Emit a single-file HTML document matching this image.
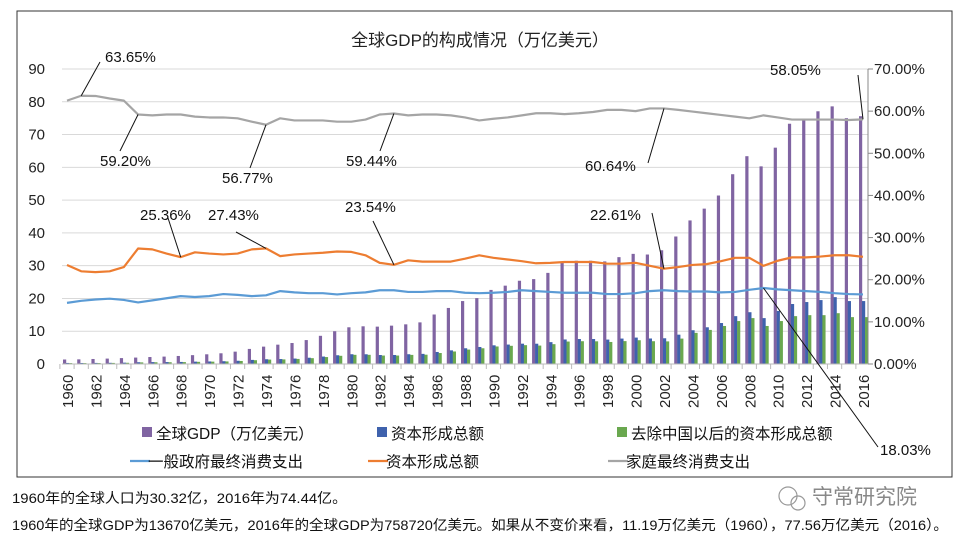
<!DOCTYPE html>
<html><head><meta charset="utf-8"><style>
body{margin:0;background:#fff;width:960px;height:540px;overflow:hidden}
svg{display:block;font-family:"Liberation Sans","Noto Sans CJK SC",sans-serif}
</style></head><body>
<svg id="chart" width="960" height="540">
<rect x="17" y="11" width="935" height="466" fill="none" stroke="#333" stroke-width="1"/>
<text x="480" y="46" text-anchor="middle" font-size="17" fill="#222">全球GDP的构成情况（万亿美元）</text>
<g id="grid"></g><g id="bars"></g><g id="lines"></g><g id="axes"></g><g id="ann"></g><g id="legend"></g>
<text x="12" y="503" font-size="14" fill="#111" textLength="335" lengthAdjust="spacingAndGlyphs">1960年的全球人口为30.32亿，2016年为74.44亿。</text>
<text x="12" y="530" font-size="14" fill="#111" textLength="936" lengthAdjust="spacingAndGlyphs">1960年的全球GDP为13670亿美元，2016年的全球GDP为758720亿美元。如果从不变价来看，11.19万亿美元（1960），77.56万亿美元（2016）。</text>
<g>
<circle cx="788" cy="496" r="9" fill="none" stroke="#999" stroke-width="1.2"/><circle cx="798" cy="503" r="7" fill="none" stroke="#999" stroke-width="1.2"/>
<text x="812" y="504" font-size="21" fill="#888">守常研究院</text></g>
</svg>
<script>
const years=[];for(let y=1960;y<=2016;y++)years.push(y);
const gdp=[1.37,1.42,1.53,1.65,1.8,1.96,2.13,2.26,2.45,2.7,2.96,3.27,3.77,4.6,5.3,5.9,6.4,7.3,8.6,10.0,11.2,11.5,11.4,11.7,12.1,12.7,15.1,17.1,19.2,20.1,22.6,23.9,25.4,25.9,27.8,30.9,31.5,31.5,31.3,32.6,33.6,33.4,34.7,38.9,43.8,47.4,51.4,57.9,63.4,60.3,66.0,73.3,74.9,77.1,78.6,75.0,75.6];
const capital=[0.32,0.31,0.33,0.36,0.41,0.54,0.58,0.59,0.63,0.72,0.78,0.85,0.99,1.25,1.45,1.51,1.66,1.91,2.27,2.67,2.98,2.97,2.74,2.75,2.98,3.09,3.67,4.16,4.8,5.19,5.7,5.93,6.2,6.19,6.67,7.48,7.62,7.62,7.45,7.76,8.06,7.78,7.85,8.95,10.3,11.2,12.5,14.6,15.8,14.0,16.2,18.3,18.9,19.5,20.4,19.2,19.2];
const capitalExChina=[0.28,0.28,0.3,0.33,0.37,0.49,0.53,0.54,0.58,0.66,0.72,0.78,0.92,1.16,1.35,1.4,1.55,1.78,2.12,2.5,2.8,2.8,2.58,2.58,2.78,2.84,3.35,3.82,4.4,4.8,5.35,5.55,5.75,5.62,6.05,6.85,6.95,6.92,6.72,6.98,7.25,6.95,6.9,7.75,9.5,10.4,11.6,13.1,14.0,11.6,13.1,14.6,14.9,14.9,15.5,14.3,14.3];
const govPct=[14.5,15.0,15.3,15.5,15.2,14.6,15.1,15.6,16.1,15.9,16.1,16.6,16.4,16.1,16.3,17.3,17.0,16.8,16.8,16.5,16.8,17.0,17.5,17.5,17.1,17.1,17.3,17.3,16.9,16.8,16.9,17.1,17.5,17.3,17.1,16.9,16.9,16.9,16.6,16.6,16.8,17.3,17.5,17.3,17.2,17.2,17.0,17.1,17.6,18.03,17.7,17.5,17.3,17.1,16.8,16.6,16.51];
const capPct=[23.5,22.0,21.8,22.0,23.0,27.4,27.2,26.2,25.36,26.5,26.2,26.0,26.2,27.2,27.43,25.6,26.0,26.2,26.4,26.7,26.6,25.8,24.0,23.54,24.6,24.3,24.3,24.3,25.0,25.8,25.2,24.8,24.4,23.9,24.0,24.2,24.2,24.2,23.8,23.8,24.0,23.3,22.61,23.0,23.5,23.7,24.4,25.2,25.2,23.3,24.5,25.3,25.3,25.5,25.8,25.8,25.44];
const housePct=[62.5,63.65,63.6,63.0,62.5,59.2,59.0,59.2,59.2,58.7,58.5,58.5,58.3,57.5,56.77,58.3,57.8,57.8,57.8,57.5,57.5,58.0,59.2,59.44,59.0,59.2,59.2,59.0,58.5,57.8,58.2,58.5,59.0,59.5,59.5,59.3,59.5,59.8,60.3,60.3,60.0,60.64,60.64,60.3,59.9,59.5,59.1,58.7,58.3,59.0,58.5,58.0,58.0,58.0,58.0,57.9,58.05];
const leftTicks=[0,10,20,30,40,50,60,70,80,90];
const rightTicks=[0,10,20,30,40,50,60,70];
const NS="http://www.w3.org/2000/svg";
const X0=62,X1=868,Y0=364,Y90=69;
const xc=i=>X0+5+i*(X1-X0-10)/(years.length-1);
const yL=v=>Y0-v*(Y0-Y90)/90;
const yR=p=>Y0-p*(Y0-Y90)/70;
function mk(tag,attrs,parent,text){const e=document.createElementNS(NS,tag);for(const k in attrs)e.setAttribute(k,attrs[k]);if(text!==undefined)e.textContent=text;document.getElementById(parent).appendChild(e);return e;}
leftTicks.forEach(v=>{
 const g=mk('line',{x1:X0,x2:X1,y1:yL(v),y2:yL(v),stroke:'#d9d9d9','stroke-width':1},'grid');
 
 
 const t=mk('text',{x:45,y:yL(v)+5,'text-anchor':'end','font-size':15,fill:'#222'},'axes',v);
 
 
});
rightTicks.forEach(p=>{
 mk('line',{x1:X1,x2:X1+5,y1:yR(p),y2:yR(p),stroke:'#888'},'axes');
 const t=mk('text',{x:874,y:yR(p)+5,'font-size':15,fill:'#222'},'axes',p.toFixed(2)+'%');
 
 
});
mk('line',{x1:X1,x2:X1,y1:Y90,y2:Y0,stroke:'#888'},'axes');
mk('line',{x1:X0,x2:X1,y1:Y0,y2:Y0,stroke:'#bbb'},'axes');
const step=(X1-X0-10)/(years.length-1);
years.forEach((y,i)=>{
 mk('line',{x1:xc(i)-step/2,x2:xc(i)-step/2,y1:Y0,y2:Y0+5,stroke:'#bbb'},'axes');
 if(i%2===0){
  const t=mk('text',{transform:`translate(${xc(i)+6},${Y0+44}) rotate(-90)`,'font-size':15,fill:'#222'},'axes',y);
  
  
 }
 const b1=mk('rect',{x:xc(i)-4,y:yL(gdp[i]),width:3.2,height:Y0-yL(gdp[i]),fill:'#8064a2'},'bars');
 
 
 const b2=mk('rect',{x:xc(i)-1,y:yL(capital[i]),width:3.2,height:Y0-yL(capital[i]),fill:'#3f62ad'},'bars');
 
 
 const b3=mk('rect',{x:xc(i)+2,y:yL(capitalExChina[i]),width:3.2,height:Y0-yL(capitalExChina[i]),fill:'#6aa84f'},'bars');
 
 
});
function line(arr,color,name){
 const l=mk('polyline',{points:arr.map((p,i)=>xc(i)+','+yR(p)).join(' '),fill:'none',stroke:color,'stroke-width':2.2,'stroke-linejoin':'round'},'lines');
 
 
}
line(govPct,'#5b9bd5','line-government');
line(capPct,'#ed7d31','line-capital-pct');
line(housePct,'#a5a5a5','line-household');
const ann=[[housePct,1,105,62,100,62],[housePct,5,100,166,120,151],[housePct,14,222,183,250,168],[housePct,23,346,166,380,151],[housePct,42,585,171,648,163],[capPct,8,140,220,168,218],[capPct,14,208,220,236,232],[capPct,23,345,212,373,221],[capPct,42,590,220,652,213],[housePct,56,770,75,858,75],[govPct,49,880,455,878,447]];
ann.forEach(a=>{
 const i=a[1],v=a[0][i];
 mk('line',{x1:a[4],y1:a[5],x2:xc(i),y2:yR(v),stroke:'#111','stroke-width':1},'ann');
 const t=mk('text',{x:a[2],y:a[3],'font-size':15,fill:'#111'},'ann',v.toFixed(2)+'%');
 
 
});
const leg=[['rect','#8064a2','全球GDP（万亿美元）',138,433],['rect','#3f62ad','资本形成总额',373,433],['rect','#6aa84f','去除中国以后的资本形成总额',613,433],['line','#5b9bd5','一般政府最终消费支出',130,461],['line','#ed7d31','资本形成总额',368,461],['line','#a5a5a5','家庭最终消费支出',608,461]];
leg.forEach(l=>{
 const g=mk('g',{},'legend');
 
 
 const e=document.createElementNS(NS,l[0]);
 if(l[0]==='rect'){e.setAttribute('x',l[3]+4);e.setAttribute('y',l[4]-6);e.setAttribute('width',10);e.setAttribute('height',10);e.setAttribute('fill',l[1]);}
 else{e.setAttribute('x1',l[3]);e.setAttribute('x2',l[3]+20);e.setAttribute('y1',l[4]);e.setAttribute('y2',l[4]);e.setAttribute('stroke',l[1]);e.setAttribute('stroke-width',2.2);}
 g.appendChild(e);
 const t=document.createElementNS(NS,'text');
 t.setAttribute('x',l[3]+18);t.setAttribute('y',l[4]+6);t.setAttribute('font-size',15.5);t.setAttribute('fill','#111');
 t.textContent=l[2];g.appendChild(t);
});
</script>
</body></html>
